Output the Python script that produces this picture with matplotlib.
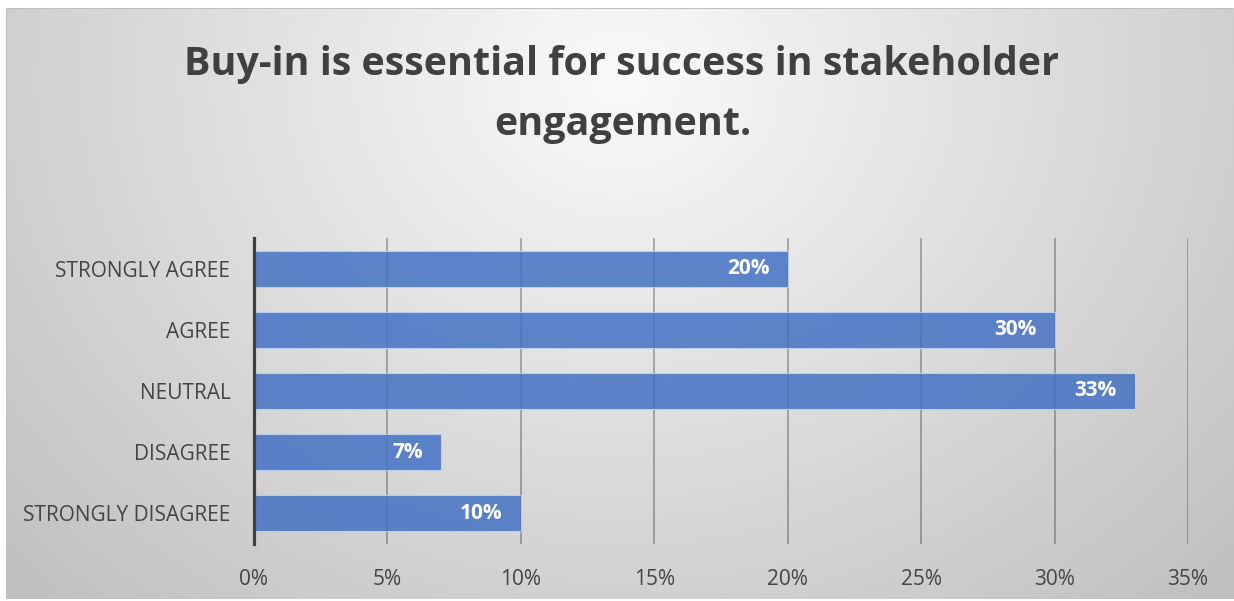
import numpy as np
import matplotlib
matplotlib.use("Agg")
import matplotlib.pyplot as plt
from matplotlib.ticker import FuncFormatter

# Survey responses (share of respondents)
categories = ["STRONGLY AGREE", "AGREE", "NEUTRAL", "DISAGREE", "STRONGLY DISAGREE"]
shares = [0.20, 0.30, 0.33, 0.07, 0.10]
x_ticks = [0.00, 0.05, 0.10, 0.15, 0.20, 0.25, 0.30, 0.35]
title_lines = ["Buy-in is essential for success in stakeholder", "engagement."]

W, H = 1234, 601
DPI = 100
FONT = "Open Sans"

fig = plt.figure(figsize=(W / DPI, H / DPI), dpi=DPI)
fig.patch.set_facecolor("white")

# Soft radial grey background of the chart area
yy, xx = np.mgrid[0:H, 0:W].astype(float)
d = np.sqrt(((xx - 620) / 700.0) ** 2 + ((yy - 80) / 600.0) ** 2)
v = np.clip(250 - 48 * d, 150, 250) / 255.0
img = np.dstack([v, v, v])
# white margin outside the chart box, thin outline along its edge
img[:8, :, :] = 1.0
img[:, :6, :] = 1.0
img[8, 6:, :] = 0.75
img[8:, 6, :] = 0.75
img[599:, :, :] = 1.0

bg = fig.add_axes([0, 0, 1, 1], zorder=-1)
bg.imshow(img, extent=(0, W, H, 0), aspect="auto", interpolation="nearest")
bg.set_xlim(0, W)
bg.set_ylim(H, 0)
bg.axis("off")


def fx(px):
    return px / W


def fy(py):
    return 1 - py / H


left, right, top, bottom = 254, 1188, 238, 544
ax = fig.add_axes([fx(left), fy(bottom), fx(right - left), (bottom - top) / H], zorder=1)
ax.set_facecolor("none")

ypos = np.arange(len(categories))
ax.barh(ypos, shares, height=0.59, color="#4472C4", alpha=0.85,
        edgecolor=(0.75, 0.83, 0.95, 0.9), linewidth=0.8, zorder=3)

ax.set_xlim(0, 0.35)
ax.set_ylim(len(categories) - 0.5, -0.5)
ax.set_xticks(x_ticks)
ax.xaxis.set_major_formatter(FuncFormatter(lambda v, p: f"{v * 100:.0f}%"))
ax.set_yticks(ypos)
ax.set_yticklabels(categories)
ax.tick_params(axis="both", length=0, labelsize=15, labelcolor="#454545")
ax.tick_params(axis="y", pad=17)
ax.tick_params(axis="x", pad=18)
for lbl in ax.get_xticklabels() + ax.get_yticklabels():
    lbl.set_fontfamily(FONT)

ax.grid(axis="x", color="#000000", alpha=0.28, linewidth=1.4, zorder=1)
ax.set_axisbelow(True)
for s in ["top", "right", "bottom"]:
    ax.spines[s].set_visible(False)
ax.spines["left"].set_color("#404040")
ax.spines["left"].set_linewidth(2.3)
ax.spines["left"].set_zorder(4)

for y, v in zip(ypos, shares):
    ax.annotate(f"{v * 100:.0f}%", xy=(v, y), xytext=(-18, 0),
                textcoords="offset pixels", ha="right", va="center",
                color="white", fontsize=15, fontweight="bold",
                fontfamily=FONT, zorder=5)

fig.text(fx(622), fy(75), title_lines[0], ha="center", va="baseline",
         fontsize=28.4, fontweight="bold", color="#404040", fontfamily=FONT)
fig.text(fx(623), fy(135), title_lines[1], ha="center", va="baseline",
         fontsize=28.4, fontweight="bold", color="#404040", fontfamily=FONT)

fig.savefig("out.png", dpi=DPI, facecolor=fig.get_facecolor())
